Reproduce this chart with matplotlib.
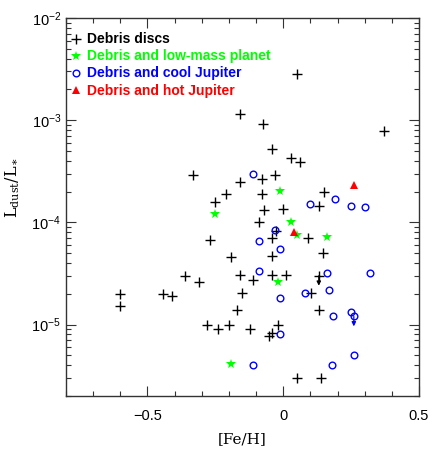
import numpy as np
import matplotlib
matplotlib.use('Agg')
import matplotlib.pyplot as plt
from matplotlib.ticker import LogLocator, MultipleLocator, NullFormatter

# Debris discs (black +)
disc_feh = [0.05, -0.16, -0.073, 0.37, -0.042, 0.030, 0.061, -0.331, -0.030, -0.080,
            -0.161, -0.210, -0.080, 0.149, -0.251, 0.132, -0.072, 0.0, -0.090, -0.026,
            -0.041, 0.090, -0.269, -0.192, -0.041, 0.148, -0.362, -0.161, -0.041, 0.011,
            0.131, -0.312, -0.111, -0.601, -0.441, -0.410, -0.151, 0.101, -0.601, -0.170,
            0.131, -0.282, -0.242, -0.199, -0.122, -0.021, -0.042, -0.052, 0.049, 0.140]
disc_ld = [2.8e-3, 1.15e-3, 9.2e-4, 7.8e-4, 5.2e-4, 4.3e-4, 3.9e-4, 2.9e-4, 2.9e-4, 2.67e-4,
           2.5e-4, 1.9e-4, 1.9e-4, 2.0e-4, 1.6e-4, 1.44e-4, 1.33e-4, 1.36e-4, 1.0e-4, 8.3e-5,
           7.1e-5, 7.0e-5, 6.7e-5, 4.6e-5, 4.7e-5, 5.0e-5, 3.0e-5, 3.04e-5, 3.04e-5, 3.04e-5,
           3.0e-5, 2.6e-5, 2.75e-5, 2.0e-5, 2.0e-5, 1.89e-5, 2.02e-5, 2.02e-5, 1.51e-5, 1.39e-5,
           1.4e-5, 1.0e-5, 9.0e-6, 1.0e-5, 9.1e-6, 1.0e-5, 8.3e-6, 7.8e-6, 3.03e-6, 3.03e-6]

# Debris and low-mass planet (green stars)
lowmass_feh = [-0.011, -0.251, 0.030, 0.049, 0.160, -0.021, -0.192]
lowmass_ld = [2.02e-4, 1.2e-4, 1.0e-4, 7.5e-5, 7.2e-5, 2.63e-5, 4.07e-6]

# Debris and cool Jupiter (blue circles)
cool_feh = [-0.111, 0.190, 0.100, 0.250, 0.301, -0.030, -0.090, -0.011, -0.090, 0.162,
            0.321, 0.170, 0.080, -0.011, 0.182, 0.251, 0.260, -0.011, 0.260, -0.111, 0.181]
cool_ld = [3.0e-4, 1.7e-4, 1.5e-4, 1.46e-4, 1.43e-4, 8.4e-5, 6.5e-5, 5.46e-5, 3.35e-5, 3.2e-5,
           3.2e-5, 2.2e-5, 2.02e-5, 1.81e-5, 1.2e-5, 1.32e-5, 1.2e-5, 8.0e-6, 5.0e-6, 4.06e-6, 4.05e-6]

# Debris and hot Jupiter (red triangles)
hot_feh = [0.260, 0.038]
hot_ld = [2.34e-4, 8.1e-5]

# upper limits (arrows)
limit_feh = [0.131, 0.260]
limit_ld = [3.0e-5, 1.2e-5]
limit_col = ['black', 'blue']

plt.figure(figsize=(4.33, 4.5), dpi=100)
ax = plt.axes([66/433, 1-396/450, 353/433, 378/450])

ax.plot(disc_feh, disc_ld, '+', color='black', ms=7.5, mew=1.0, ls='none', label='Debris discs')
ax.plot(lowmass_feh, lowmass_ld, '*', color='#00ff00', ms=7.5, mew=0, ls='none',
        label='Debris and low-mass planet')
ax.plot(cool_feh, cool_ld, 'o', mfc='none', mec='blue', ms=4.8, mew=1.0, ls='none',
        label='Debris and cool Jupiter')
ax.plot(hot_feh, hot_ld, '^', color='red', ms=6, mew=0, ls='none', label='Debris and hot Jupiter')

for fx, fy, c in zip(limit_feh, limit_ld, limit_col):
    ax.annotate('', xy=(fx, fy * 0.8), xytext=(fx, fy),
                arrowprops=dict(arrowstyle='-|>', color=c, lw=0.9, mutation_scale=6,
                                shrinkA=0, shrinkB=0))

ax.set_yscale('log')
ax.set_xlim(-0.8, 0.5)
ax.set_ylim(2e-6, 1e-2)

ax.xaxis.set_major_locator(MultipleLocator(0.5))
ax.xaxis.set_minor_locator(MultipleLocator(0.1))
ax.yaxis.set_major_locator(LogLocator(base=10))
ax.yaxis.set_minor_locator(LogLocator(base=10, subs=np.arange(2, 10)))
ax.yaxis.set_minor_formatter(NullFormatter())
ax.xaxis.set_major_formatter(plt.FuncFormatter(lambda v, p: '0' if abs(v) < 1e-9 else ('%g' % v).replace('-', '\u2212')))

ax.tick_params(which='both', direction='in', top=True, right=True, width=0.8, colors='#333333',
               labelcolor='black', labelsize=10.5)
ax.tick_params(which='major', length=7)
ax.tick_params(which='minor', length=3.5)
ax.tick_params(axis='x', pad=9)
for s in ax.spines.values():
    s.set_linewidth(1.0)
    s.set_color('#333333')
for lab in ax.get_xticklabels() + ax.get_yticklabels():
    lab.set_family('Liberation Sans')

ax.set_xlabel('[Fe/H]', family='DejaVu Serif', fontsize=11, labelpad=7)
ax.set_ylabel(r'$\mathregular{L_{dust}/L_{\ast}}$', family='DejaVu Serif', fontsize=11.5)
ax.yaxis.set_label_coords(-0.125, 0.55)

leg = ax.legend(loc='upper left', frameon=False, handlelength=0.6, handletextpad=0.5,
                labelspacing=0.22, borderaxespad=0, borderpad=0,
                bbox_to_anchor=(0.017, 0.962),
                prop={'family': 'Liberation Sans', 'weight': 'bold', 'size': 10})
for t, c in zip(leg.get_texts(), ['black', '#00ff00', 'blue', 'red']):
    t.set_color(c)

plt.savefig('out.png', dpi=100)
